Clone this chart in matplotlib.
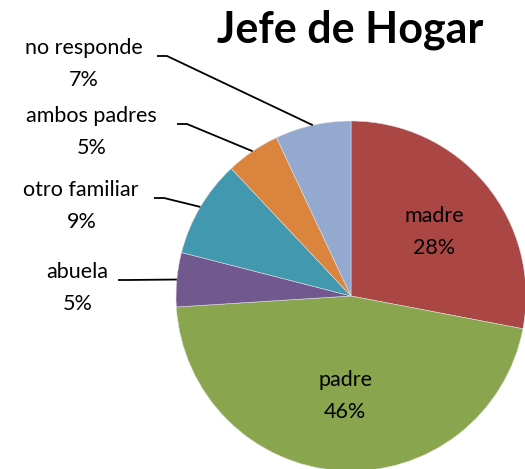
import numpy as np
import matplotlib
matplotlib.use("Agg")
import matplotlib.pyplot as plt

categories = ["madre", "padre", "abuela", "otro familiar", "ambos padres", "no responde"]
values = [28, 46, 5, 9, 5, 7]
colors = ["#AA4644", "#89A54E", "#71588F", "#4198AF", "#DB843D", "#93A9CF"]
title = "Jefe de Hogar"

W, H = 525, 469
fig = plt.figure(figsize=(W / 100, H / 100), dpi=100)
ax = fig.add_axes([0, 0, 1, 1])

cx, cy, R = 351, H - 296, 175
wedges, _ = ax.pie(values, colors=colors, startangle=90, counterclock=False,
                   center=(cx, cy), radius=R, frame=True,
                   wedgeprops=dict(linewidth=0.4, edgecolor="#dddddd"))
ax.set_xlim(0, W)
ax.set_ylim(0, H)
ax.set_aspect("equal")
ax.axis("off")

font = "Lato"
fs = 15.5
total = sum(values)

# inside labels: (center x, name y)
inside = {"madre": (434, 216), "padre": (345, 380)}
# outside labels: (name center x, name y, pct center x, line start x)
outside = {
    "no responde": (84, 48, 84, 157),
    "ambos padres": (91, 116, 92, 177),
    "otro familiar": (81, 190, 82, 154),
    "abuela": (77, 272, 78, 118),
}

cum = 0
for cat, v, w in zip(categories, values, wedges):
    mid = cum + v / 2
    cum += v
    ang = np.deg2rad(90 - 360 * mid / total)
    pct = f"{round(100 * v / total)}%"
    if cat in inside:
        x, y = inside[cat]
        ax.text(x, H - y, cat, ha="center", va="center", fontsize=fs, family=font)
        ax.text(x, H - (y + 32), pct, ha="center", va="center", fontsize=fs, family=font)
    else:
        tx, ty, px, lx = outside[cat]
        ax.text(tx, H - ty, cat, ha="center", va="center", fontsize=fs, family=font)
        ax.text(px, H - (ty + 32), pct, ha="center", va="center", fontsize=fs, family=font)
        ex = cx + R * np.cos(ang)
        ey = cy + R * np.sin(ang)
        ly = H - (ty + 8)
        ax.plot([lx, lx + 10, ex], [ly, ly, ey], color="black", lw=1.3,
                solid_capstyle="butt")

ax.text(350, H - 30, title, ha="center", va="center", fontsize=31,
        fontweight="bold", family=font)

fig.savefig("out.png", dpi=100)
